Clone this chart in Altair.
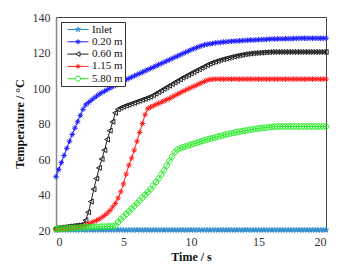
import altair as alt
import pandas as pd

time = [round(i * 0.2, 1) for i in range(101)]

inlet = [20.0] * 101

p020 = [50.0, 54.0, 58.0, 62.0, 66.0, 70.0, 73.8, 77.4, 81.0, 84.6,
        88.0, 90.5, 91.8, 93.0, 94.2, 95.4, 96.5, 97.4, 98.2, 99.1,
        100.0, 100.8, 101.6, 102.4, 103.2, 104.0, 104.7, 105.4, 106.1, 106.8,
        107.5, 108.2, 108.9, 109.6, 110.3, 111.0, 111.7, 112.4, 113.1, 113.8,
        114.5, 115.2, 115.9, 116.6, 117.3, 118.0, 118.7, 119.4, 120.1, 120.8,
        121.5, 122.1, 122.7, 123.3, 123.8, 124.3, 124.6, 124.9, 125.1, 125.4,
        125.6, 125.7, 125.9, 126.0, 126.2, 126.3, 126.4, 126.5, 126.6, 126.7,
        126.8, 126.9, 127.0, 127.0, 127.1, 127.2, 127.3, 127.3, 127.4, 127.5,
        127.6, 127.6, 127.7, 127.7, 127.7, 127.8, 127.8, 127.8, 127.9, 127.9,
        128.0, 128.0, 128.0, 128.0, 128.0, 128.0, 128.0, 128.0, 128.0, 128.0,
        128.0]

p060 = [21.0, 21.2, 21.4, 21.6, 21.8, 22.0, 22.2, 22.4, 22.6, 22.8,
        23.1, 25.5, 30.0, 36.0, 43.0, 49.0, 55.0, 60.0, 65.0, 71.0,
        76.0, 81.0, 86.0, 88.0, 88.8, 89.5, 90.1, 90.6, 91.2, 91.7,
        92.3, 92.8, 93.4, 93.9, 94.5, 95.1, 95.9, 96.8, 97.7, 98.6,
        99.5, 100.4, 101.3, 102.2, 103.1, 104.0, 104.9, 105.8, 106.6, 107.4,
        108.2, 109.0, 109.8, 110.6, 111.4, 112.2, 113.0, 113.7, 114.3, 114.8,
        115.3, 115.8, 116.2, 116.6, 117.0, 117.4, 117.8, 118.1, 118.4, 118.7,
        119.0, 119.2, 119.4, 119.6, 119.7, 119.8, 119.9, 120.0, 120.1, 120.2,
        120.3, 120.3, 120.3, 120.3, 120.3, 120.3, 120.3, 120.3, 120.3, 120.3,
        120.3, 120.3, 120.3, 120.3, 120.3, 120.3, 120.3, 120.3, 120.3, 120.3,
        120.3]

p115 = [20.2, 20.3, 20.4, 20.5, 20.6, 20.8, 21.0, 21.2, 21.4, 21.7,
        22.0, 22.6, 23.3, 24.0, 24.7, 25.4, 26.2, 27.1, 28.2, 29.5,
        31.0, 33.0, 35.0, 38.0, 41.5, 46.0, 51.5, 56.5, 60.5, 65.0,
        70.0, 75.0, 80.0, 85.0, 88.3, 89.2, 89.9, 90.6, 91.3, 92.0,
        92.7, 93.4, 94.1, 94.9, 95.7, 96.5, 97.3, 98.1, 98.8, 99.5,
        100.2, 100.9, 101.6, 102.3, 103.0, 103.7, 104.4, 104.8, 104.9, 105.0,
        105.0, 105.0, 105.0, 105.0, 105.0, 105.0, 105.0, 105.0, 105.0, 105.0,
        105.0, 105.0, 105.0, 105.0, 105.0, 105.0, 105.0, 105.0, 105.0, 105.0,
        105.0, 105.0, 105.0, 105.0, 105.0, 105.0, 105.0, 105.0, 105.0, 105.0,
        105.0, 105.0, 105.0, 105.0, 105.0, 105.0, 105.0, 105.0, 105.0, 105.0,
        105.0]

p580 = [20.5, 20.6, 20.7, 20.8, 20.9, 21.0, 21.1, 21.2, 21.3, 21.4,
        21.5, 21.6, 21.6, 21.7, 21.7, 21.8, 21.8, 21.9, 21.9, 22.0,
        22.0, 22.1, 22.4, 24.5, 26.0, 27.5, 29.0, 30.5, 32.0, 33.5,
        35.0, 36.6, 38.2, 39.8, 41.4, 43.0, 45.0, 47.0, 49.0, 51.2,
        53.6, 56.2, 58.8, 61.4, 63.8, 65.4, 66.0, 66.6, 67.1, 67.6,
        68.1, 68.6, 69.1, 69.6, 70.1, 70.5, 71.0, 71.4, 71.8, 72.2,
        72.6, 73.0, 73.4, 73.8, 74.2, 74.5, 74.8, 75.1, 75.4, 75.7,
        76.0, 76.2, 76.5, 76.7, 77.0, 77.2, 77.4, 77.6, 77.7, 77.9,
        78.0, 78.2, 78.3, 78.3, 78.3, 78.3, 78.3, 78.3, 78.3, 78.3,
        78.3, 78.3, 78.3, 78.3, 78.3, 78.3, 78.3, 78.3, 78.3, 78.3,
        78.3]

series_names = ["Inlet", "0.20 m", "0.60 m", "1.15 m", "5.80 m"]
series_values = [inlet, p020, p060, p115, p580]
series_colors = ["#2f8fd6", "#1f1fff", "#222222", "#ff2020", "#22ee22"]

STAR = ("M0,-1L0.235,-0.324L0.951,-0.309L0.380,0.124L0.588,0.809L0,0.4"
        "L-0.588,0.809L-0.380,0.124L-0.951,-0.309L-0.235,-0.324Z")
AST = "M-1,0H1M0,-1V1M-0.7,-0.7L0.7,0.7M-0.7,0.7L0.7,-0.7"
TRI = "M-1,0L0.8,-0.9L0.8,0.9Z"
CIRC = "M1,0A1,1 0 1 1 -1,0A1,1 0 1 1 1,0Z"
series_shapes = [STAR, AST, TRI, AST, CIRC]

LINE = "M-4.2,0H4.2"
legend_shapes = [STAR + LINE, AST + LINE, TRI + "M-4.2,0H-1M0.8,0H4.2", AST + LINE,
                 CIRC + "M-4.2,0H-1M1,0H4.2"]

rows = []
for name, vals in zip(series_names, series_values):
    for t, v in zip(time, vals):
        rows.append({"t": t, "T": v, "series": name})
df = pd.DataFrame(rows)

font = "Liberation Serif"

x = alt.X("t:Q", scale=alt.Scale(domain=[0, 20], nice=False),
          axis=alt.Axis(values=[0, 5, 10, 15, 20], title="Time / s", format="d",
                        labelPadding=6, titlePadding=4, labelFont=font))
y = alt.Y("T:Q", scale=alt.Scale(domain=[20, 140], nice=False, zero=False),
          axis=alt.Axis(values=[20, 40, 60, 80, 100, 120, 140],
                        title="Temperature / °C", format="d",
                        labelPadding=6, titlePadding=6, labelFont=font))
color_scale = alt.Scale(domain=series_names, range=series_colors)

layers = []
for name, col, shp in zip(series_names, series_colors, series_shapes):
    sub = alt.Chart(df).transform_filter(alt.datum.series == name)
    layers.append(sub.mark_line(strokeWidth=1, color=col).encode(
        x=x, y=y, order=alt.Order("t:Q")))
    layers.append(sub.mark_point(filled=False, size=30, strokeWidth=1, opacity=1,
                                 shape=shp, color=col).encode(x=x, y=y))

legend_layer = alt.Chart(df).mark_point(filled=False, size=25, strokeWidth=1, opacity=0).encode(
    x=x, y=y,
    color=alt.Color("series:N", scale=color_scale,
                    legend=alt.Legend(
                        title=None, orient="top-left", offset=5,
                        fillColor="white", strokeColor="#333", padding=2,
                        labelFont=font, labelFontSize=11, labelColor="#111",
                        symbolSize=25, symbolStrokeWidth=1, labelOffset=8.5,
                        rowPadding=0.3, symbolOffset=9.5, symbolOpacity=1)),
    shape=alt.Shape("series:N",
                    scale=alt.Scale(domain=series_names, range=legend_shapes)),
)
layers.append(legend_layer)

chart = alt.layer(*layers).properties(
    width=270, height=213,
    autosize=alt.AutoSizeParams(type="none"),
    padding={"left": 56, "top": 17, "right": 35, "bottom": 45},
).configure(
    background="white", font=font,
    style={"guide-label": {"font": font}, "guide-title": {"font": font}},
).configure_view(
    stroke="#444", strokeWidth=1
).configure_axis(
    ticks=False, grid=False, labelFont=font, labelFontSize=12, labelColor="#333",
    titleFont=font, titleFontSize=12, titleFontWeight="bold", titleColor="#111",
    domainColor="#888", domainWidth=1.5
).configure_legend(labelFont=font)

chart.save("out.html", embed_options={"renderer": "svg", "actions": False})
